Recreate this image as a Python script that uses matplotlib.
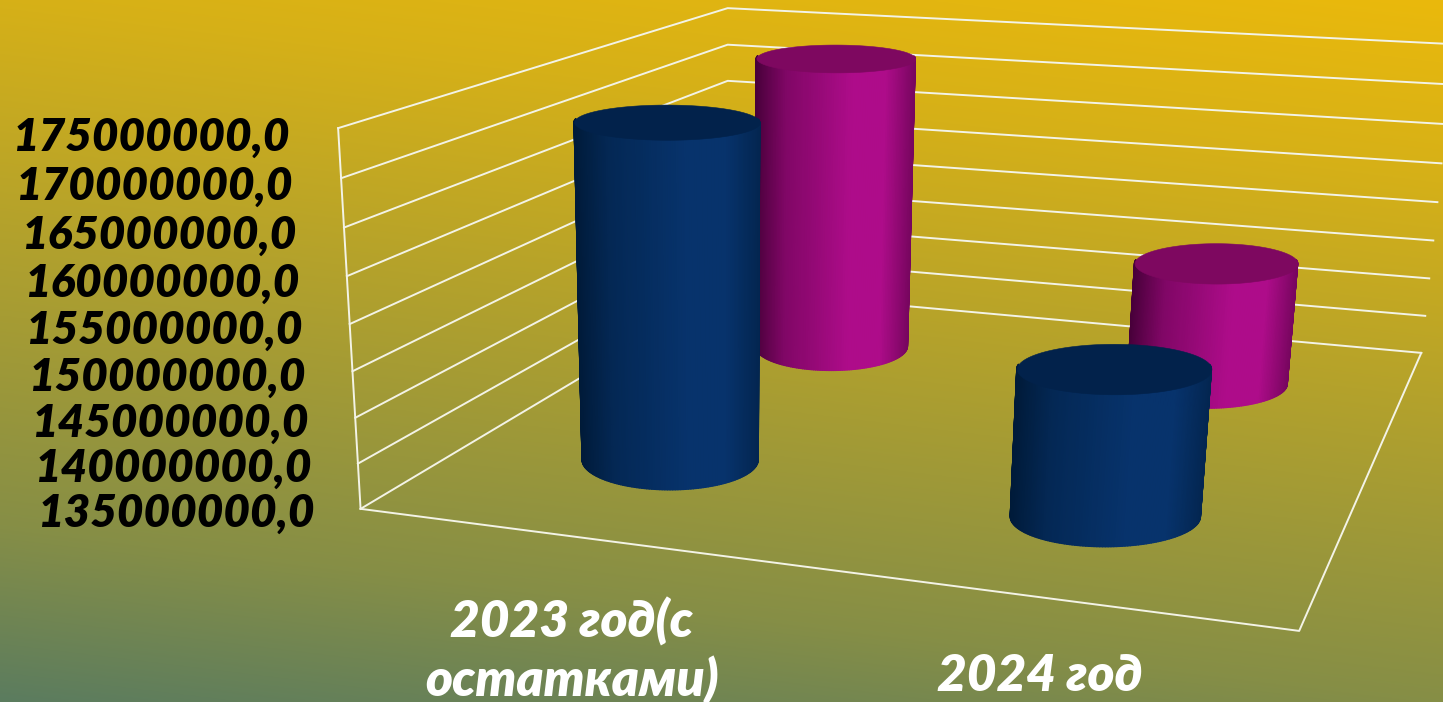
import numpy as np
import matplotlib
matplotlib.use("Agg")
import matplotlib.pyplot as plt
from matplotlib.colors import to_rgb
from mpl_toolkits.mplot3d.art3d import Poly3DCollection

W, H = 1443, 702

categories = ["2023 год(с\nостатками)", "2024 год"]
blue_values = [172800000.0, 151000000.0]
magenta_values = [172600000.0, 150400000.0]
ticks = [135000000, 140000000, 145000000, 150000000, 155000000,
         160000000, 165000000, 170000000, 175000000]
zmin, zmax = ticks[0], ticks[-1]

plt.rcParams["font.family"] = ["Lato", "DejaVu Sans"]

# box corners as seen on the picture, used to fit the camera
cube = [(0, 0, 0), (1, 0, 0), (1, 1, 0), (0, 1, 0), (0, 0, 1), (0, 1, 1), (1, 1, 1)]
screen = [(360, 507), (1300, 631), (1421, 353), (728, 291), (338, 130), (728, 7), (1454, 44)]


def fit_camera():
    A, b = [], []
    for (u, v, w), (px, py) in zip(cube, screen):
        A.append([u, v, w, 1, 0, 0, 0, 0, -px*u, -px*v, -px*w])
        A.append([0, 0, 0, 0, u, v, w, 1, -py*u, -py*v, -py*w])
        b += [px, py]
    p = np.linalg.lstsq(np.array(A, float), np.array(b, float), rcond=None)[0]
    return np.array([p[:4], p[4:8], [0, 1, 0, 0], [p[8], p[9], p[10], 1]])


fig = plt.figure(figsize=(W/100, H/100), dpi=100)

# background
bg = fig.add_axes([0, 0, 1, 1], zorder=-1)
xx, yy = np.meshgrid(np.linspace(0, 1, 400), np.linspace(0, 1, 300))
s = 0.8*yy + 0.2*(1-xx)
t = np.interp(s, [0, 0.2, 0.5, 0.8, 1], [0, 0.14, 0.42, 0.7, 1])[..., None]
top, bottom = np.array(to_rgb("#EAB90C")), np.array(to_rgb("#5B7C5F"))
bg.imshow(top*(1-t) + bottom*t, aspect="auto", extent=(0, 1, 1, 0))
bg.axis("off")

ax = fig.add_axes([0, 0, 1, 1], projection="3d", computed_zorder=False)
ax.apply_aspect = lambda position=None: None
ax.set_proj_type("ortho")
ax.set_axis_off()
ax.patch.set_alpha(0)

# data to unit cube, then camera, then the 2d limits of the axes
to_unit = np.array([[0.5, 0, 0, 0], [0, 1, 0, 0],
                    [0, 0, 1/(zmax-zmin), -zmin/(zmax-zmin)], [0, 0, 0, 1]])
cam = fit_camera() @ to_unit
lim = ax.viewLim
to_view = np.array([[(lim.x1-lim.x0)/W, 0, 0, lim.x0],
                    [0, (lim.y0-lim.y1)/H, 0, lim.y1],
                    [0, 0, 1, 0], [0, 0, 0, 1]])
M = to_view @ cam
ax.get_proj = lambda: M


def to_screen(x, y):
    v = cam @ [x, y, zmin, 1]
    return np.array([v[0]/v[3], v[1]/v[3]])


line = dict(color="#F3F3E6", lw=1.4, zorder=1)
for z in ticks:
    ax.plot([0, 0, 2], [0, 1, 1], [z, z, z], **line)
ax.plot([0, 0], [0, 0], [zmin, zmax], **line)
ax.plot([0, 2, 2], [0, 0, 1], [zmin, zmin, zmin], **line)

for z in ticks:
    # labels sit a bit tighter than the grid
    ax.text(-0.061, -0.04, 155000000 + (z-155000000)*0.977, f"{z},0", ha="right", va="center",
            fontsize=33, fontweight="heavy", fontstyle="italic", color="black", zorder=10)

label_pos = [(0.65, -0.15), (1.571, -0.13)]
for (x, y), name in zip(label_pos, categories):
    ax.text(x, y, zmin, name, ha="center", va="top", fontsize=37, linespacing=1.22,
            fontweight="heavy", fontstyle="italic", color="white", zorder=10)


def cylinder(cx, cy, value, dark, bright, cap, order, rx=90, ry=30):
    # base is an ellipse lying flat on the screen, turned back to floor units
    jac = np.column_stack([to_screen(cx+0.01, cy)-to_screen(cx, cy),
                           to_screen(cx, cy+0.01)-to_screen(cx, cy)])/0.01
    inv = np.linalg.inv(jac)
    # front half only, the lid hides the rest
    theta = np.linspace(-0.15, np.pi+0.15, 121)
    off = inv @ np.vstack([rx*np.cos(theta), ry*np.sin(theta)])
    X = np.vstack([cx + off[0]]*2)
    Y = np.vstack([cy + off[1]]*2)
    Z = np.vstack([np.full(121, zmin), np.full(121, value)])
    mid = (theta[:-1] + theta[1:])/2
    k = np.interp(np.cos(mid), [-1, -0.6, 0.2, 0.6, 1], [0, 0.55, 1, 1, 0.45])[..., None]
    col = np.array(to_rgb(dark))*(1-k) + np.array(to_rgb(bright))*k
    col = np.hstack([col, np.ones((120, 1))])[None, ...]
    ax.plot_surface(X, Y, Z, facecolors=col, rcount=2, ccount=121, shade=False,
                    linewidth=1.0, antialiased=True, zorder=order)
    round_t = np.linspace(0, 2*np.pi, 181)
    off = inv @ np.vstack([rx*np.cos(round_t), ry*np.sin(round_t)])
    lid = list(zip(cx + off[0], cy + off[1], np.full(181, value)))
    ax.add_collection3d(Poly3DCollection([lid], facecolor=cap, edgecolor=cap,
                                         linewidth=0.4, zorder=order+0.5))


cylinder(0.496, 0.77, magenta_values[0], "#470039", "#AE0C8A", "#7E0860", 2, rx=76, ry=24)
cylinder(0.482, 0.264, blue_values[0], "#001A38", "#07336C", "#02224B", 3, rx=88)
cylinder(1.518, 0.765, magenta_values[1], "#470039", "#AE0C8A", "#7E0860", 4, rx=80, ry=24)
cylinder(1.509, 0.245, blue_values[1], "#001A38", "#07336C", "#02224B", 5, rx=95)

fig.savefig("out.png", dpi=100)
